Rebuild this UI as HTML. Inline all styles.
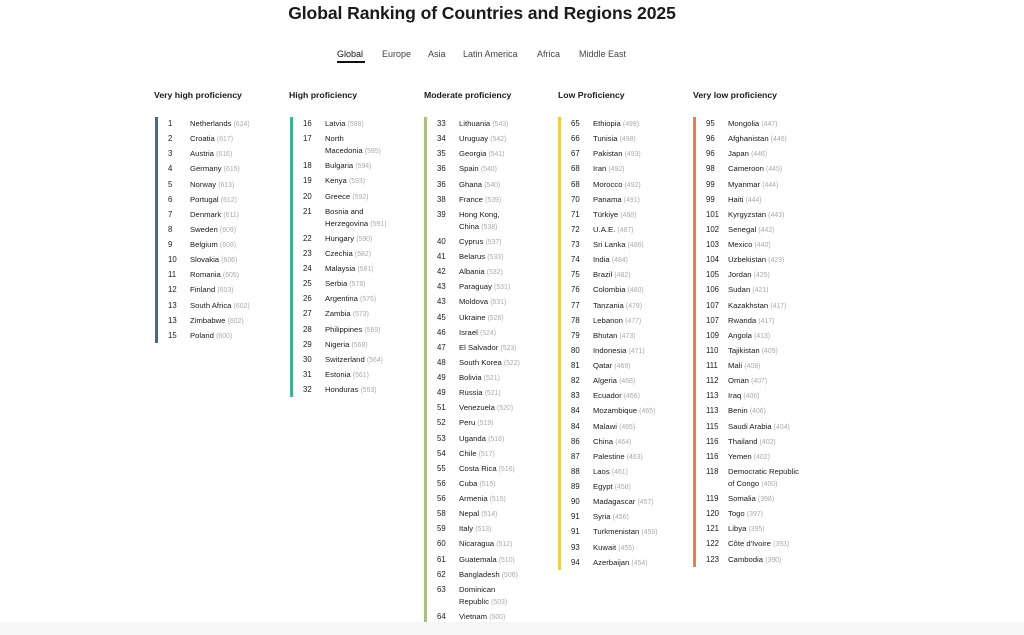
<!DOCTYPE html>
<html><head><meta charset="utf-8"><style>
body{margin:0;width:1024px;height:635px;background:#fff;font-family:"Liberation Sans",sans-serif;color:#1a1a1a;position:relative;overflow:hidden}
.title{position:absolute;top:3px;left:0;width:964px;text-align:center;font-size:17.6px;font-weight:bold;letter-spacing:-0.1px}
.tabs{position:absolute;top:49px;left:337px;font-size:9px;color:#444}
.tabs span{position:absolute;white-space:nowrap}
.hd{position:absolute;top:90px;font-size:8.7px;font-weight:bold;white-space:nowrap}
.col{position:absolute;top:117px;padding:1px 0;border-left:3px solid}
.r{position:relative;height:12px;line-height:12px;margin-bottom:3.14px;font-size:7.7px;white-space:nowrap}
.r:last-child{margin-bottom:0}
.r.w{height:24px}
.r b{position:absolute;left:10px;font-weight:normal;font-size:7.8px}
.r i{position:absolute;left:32px;font-style:normal}
.r i s{text-decoration:none;color:#aaa;font-size:6.9px}
.foot{position:absolute;left:0;top:622px;width:1024px;height:13px;background:#f6f6f6}
</style></head><body>
<div class="title">Global Ranking of Countries and Regions 2025</div>
<div class="tabs">
<span style="left:0;color:#111">Global<div style="height:1.5px;background:#111;margin-top:2px;width:28px"></div></span>
<span style="left:45px">Europe</span><span style="left:91px">Asia</span><span style="left:126px">Latin America</span><span style="left:200px">Africa</span><span style="left:242px">Middle East</span>
</div>
<div class="hd" style="left:154px">Very high proficiency</div>
<div class="hd" style="left:289px">High proficiency</div>
<div class="hd" style="left:424px">Moderate proficiency</div>
<div class="hd" style="left:558px">Low Proficiency</div>
<div class="hd" style="left:693px">Very low proficiency</div>

<div class="col" style="left:155px;border-color:#3a6d94">
<div class="r"><b>1</b><i>Netherlands <s>(624)</s></i></div>
<div class="r"><b>2</b><i>Croatia <s>(617)</s></i></div>
<div class="r"><b>3</b><i>Austria <s>(616)</s></i></div>
<div class="r"><b>4</b><i>Germany <s>(615)</s></i></div>
<div class="r"><b>5</b><i>Norway <s>(613)</s></i></div>
<div class="r"><b>6</b><i>Portugal <s>(612)</s></i></div>
<div class="r"><b>7</b><i>Denmark <s>(611)</s></i></div>
<div class="r"><b>8</b><i>Sweden <s>(609)</s></i></div>
<div class="r"><b>9</b><i>Belgium <s>(608)</s></i></div>
<div class="r"><b>10</b><i>Slovakia <s>(606)</s></i></div>
<div class="r"><b>11</b><i>Romania <s>(605)</s></i></div>
<div class="r"><b>12</b><i>Finland <s>(603)</s></i></div>
<div class="r"><b>13</b><i>South Africa <s>(602)</s></i></div>
<div class="r"><b>13</b><i>Zimbabwe <s>(602)</s></i></div>
<div class="r"><b>15</b><i>Poland <s>(600)</s></i></div>
</div>

<div class="col" style="left:290px;border-color:#3db394">
<div class="r"><b>16</b><i>Latvia <s>(598)</s></i></div>
<div class="r w"><b>17</b><i>North<br>Macedonia <s>(595)</s></i></div>
<div class="r"><b>18</b><i>Bulgaria <s>(594)</s></i></div>
<div class="r"><b>19</b><i>Kenya <s>(593)</s></i></div>
<div class="r"><b>20</b><i>Greece <s>(592)</s></i></div>
<div class="r w"><b>21</b><i>Bosnia and<br>Herzegovina <s>(591)</s></i></div>
<div class="r"><b>22</b><i>Hungary <s>(590)</s></i></div>
<div class="r"><b>23</b><i>Czechia <s>(582)</s></i></div>
<div class="r"><b>24</b><i>Malaysia <s>(581)</s></i></div>
<div class="r"><b>25</b><i>Serbia <s>(578)</s></i></div>
<div class="r"><b>26</b><i>Argentina <s>(575)</s></i></div>
<div class="r"><b>27</b><i>Zambia <s>(573)</s></i></div>
<div class="r"><b>28</b><i>Philippines <s>(569)</s></i></div>
<div class="r"><b>29</b><i>Nigeria <s>(568)</s></i></div>
<div class="r"><b>30</b><i>Switzerland <s>(564)</s></i></div>
<div class="r"><b>31</b><i>Estonia <s>(561)</s></i></div>
<div class="r"><b>32</b><i>Honduras <s>(553)</s></i></div>
</div>

<div class="col" style="left:424px;border-color:#a6c27d">
<div class="r"><b>33</b><i>Lithuania <s>(543)</s></i></div>
<div class="r"><b>34</b><i>Uruguay <s>(542)</s></i></div>
<div class="r"><b>35</b><i>Georgia <s>(541)</s></i></div>
<div class="r"><b>36</b><i>Spain <s>(540)</s></i></div>
<div class="r"><b>36</b><i>Ghana <s>(540)</s></i></div>
<div class="r"><b>38</b><i>France <s>(539)</s></i></div>
<div class="r w"><b>39</b><i>Hong Kong,<br>China <s>(538)</s></i></div>
<div class="r"><b>40</b><i>Cyprus <s>(537)</s></i></div>
<div class="r"><b>41</b><i>Belarus <s>(533)</s></i></div>
<div class="r"><b>42</b><i>Albania <s>(532)</s></i></div>
<div class="r"><b>43</b><i>Paraguay <s>(531)</s></i></div>
<div class="r"><b>43</b><i>Moldova <s>(531)</s></i></div>
<div class="r"><b>45</b><i>Ukraine <s>(526)</s></i></div>
<div class="r"><b>46</b><i>Israel <s>(524)</s></i></div>
<div class="r"><b>47</b><i>El Salvador <s>(523)</s></i></div>
<div class="r"><b>48</b><i>South Korea <s>(522)</s></i></div>
<div class="r"><b>49</b><i>Bolivia <s>(521)</s></i></div>
<div class="r"><b>49</b><i>Russia <s>(521)</s></i></div>
<div class="r"><b>51</b><i>Venezuela <s>(520)</s></i></div>
<div class="r"><b>52</b><i>Peru <s>(519)</s></i></div>
<div class="r"><b>53</b><i>Uganda <s>(518)</s></i></div>
<div class="r"><b>54</b><i>Chile <s>(517)</s></i></div>
<div class="r"><b>55</b><i>Costa Rica <s>(516)</s></i></div>
<div class="r"><b>56</b><i>Cuba <s>(515)</s></i></div>
<div class="r"><b>56</b><i>Armenia <s>(515)</s></i></div>
<div class="r"><b>58</b><i>Nepal <s>(514)</s></i></div>
<div class="r"><b>59</b><i>Italy <s>(513)</s></i></div>
<div class="r"><b>60</b><i>Nicaragua <s>(512)</s></i></div>
<div class="r"><b>61</b><i>Guatemala <s>(510)</s></i></div>
<div class="r"><b>62</b><i>Bangladesh <s>(506)</s></i></div>
<div class="r w"><b>63</b><i>Dominican<br>Republic <s>(503)</s></i></div>
<div class="r"><b>64</b><i>Vietnam <s>(500)</s></i></div>
</div>

<div class="col" style="left:558px;border-color:#ead04c">
<div class="r"><b>65</b><i>Ethiopia <s>(499)</s></i></div>
<div class="r"><b>66</b><i>Tunisia <s>(498)</s></i></div>
<div class="r"><b>67</b><i>Pakistan <s>(493)</s></i></div>
<div class="r"><b>68</b><i>Iran <s>(492)</s></i></div>
<div class="r"><b>68</b><i>Morocco <s>(492)</s></i></div>
<div class="r"><b>70</b><i>Panama <s>(491)</s></i></div>
<div class="r"><b>71</b><i>Türkiye <s>(488)</s></i></div>
<div class="r"><b>72</b><i>U.A.E. <s>(487)</s></i></div>
<div class="r"><b>73</b><i>Sri Lanka <s>(486)</s></i></div>
<div class="r"><b>74</b><i>India <s>(484)</s></i></div>
<div class="r"><b>75</b><i>Brazil <s>(482)</s></i></div>
<div class="r"><b>76</b><i>Colombia <s>(480)</s></i></div>
<div class="r"><b>77</b><i>Tanzania <s>(479)</s></i></div>
<div class="r"><b>78</b><i>Lebanon <s>(477)</s></i></div>
<div class="r"><b>79</b><i>Bhutan <s>(473)</s></i></div>
<div class="r"><b>80</b><i>Indonesia <s>(471)</s></i></div>
<div class="r"><b>81</b><i>Qatar <s>(469)</s></i></div>
<div class="r"><b>82</b><i>Algeria <s>(468)</s></i></div>
<div class="r"><b>83</b><i>Ecuador <s>(466)</s></i></div>
<div class="r"><b>84</b><i>Mozambique <s>(465)</s></i></div>
<div class="r"><b>84</b><i>Malawi <s>(465)</s></i></div>
<div class="r"><b>86</b><i>China <s>(464)</s></i></div>
<div class="r"><b>87</b><i>Palestine <s>(463)</s></i></div>
<div class="r"><b>88</b><i>Laos <s>(461)</s></i></div>
<div class="r"><b>89</b><i>Egypt <s>(458)</s></i></div>
<div class="r"><b>90</b><i>Madagascar <s>(457)</s></i></div>
<div class="r"><b>91</b><i>Syria <s>(456)</s></i></div>
<div class="r"><b>91</b><i>Turkmenistan <s>(456)</s></i></div>
<div class="r"><b>93</b><i>Kuwait <s>(455)</s></i></div>
<div class="r"><b>94</b><i>Azerbaijan <s>(454)</s></i></div>
</div>

<div class="col" style="left:693px;border-color:#ee7c45">
<div class="r"><b>95</b><i>Mongolia <s>(447)</s></i></div>
<div class="r"><b>96</b><i>Afghanistan <s>(446)</s></i></div>
<div class="r"><b>96</b><i>Japan <s>(446)</s></i></div>
<div class="r"><b>98</b><i>Cameroon <s>(445)</s></i></div>
<div class="r"><b>99</b><i>Myanmar <s>(444)</s></i></div>
<div class="r"><b>99</b><i>Haiti <s>(444)</s></i></div>
<div class="r"><b>101</b><i>Kyrgyzstan <s>(443)</s></i></div>
<div class="r"><b>102</b><i>Senegal <s>(442)</s></i></div>
<div class="r"><b>103</b><i>Mexico <s>(440)</s></i></div>
<div class="r"><b>104</b><i>Uzbekistan <s>(429)</s></i></div>
<div class="r"><b>105</b><i>Jordan <s>(425)</s></i></div>
<div class="r"><b>106</b><i>Sudan <s>(421)</s></i></div>
<div class="r"><b>107</b><i>Kazakhstan <s>(417)</s></i></div>
<div class="r"><b>107</b><i>Rwanda <s>(417)</s></i></div>
<div class="r"><b>109</b><i>Angola <s>(413)</s></i></div>
<div class="r"><b>110</b><i>Tajikistan <s>(409)</s></i></div>
<div class="r"><b>111</b><i>Mali <s>(408)</s></i></div>
<div class="r"><b>112</b><i>Oman <s>(407)</s></i></div>
<div class="r"><b>113</b><i>Iraq <s>(406)</s></i></div>
<div class="r"><b>113</b><i>Benin <s>(406)</s></i></div>
<div class="r"><b>115</b><i>Saudi Arabia <s>(404)</s></i></div>
<div class="r"><b>116</b><i>Thailand <s>(402)</s></i></div>
<div class="r"><b>116</b><i>Yemen <s>(402)</s></i></div>
<div class="r w"><b>118</b><i>Democratic Republic<br>of Congo <s>(400)</s></i></div>
<div class="r"><b>119</b><i>Somalia <s>(398)</s></i></div>
<div class="r"><b>120</b><i>Togo <s>(397)</s></i></div>
<div class="r"><b>121</b><i>Libya <s>(395)</s></i></div>
<div class="r"><b>122</b><i>Côte d'Ivoire <s>(393)</s></i></div>
<div class="r"><b>123</b><i>Cambodia <s>(390)</s></i></div>
</div>
<div class="foot"></div>
</body></html>
